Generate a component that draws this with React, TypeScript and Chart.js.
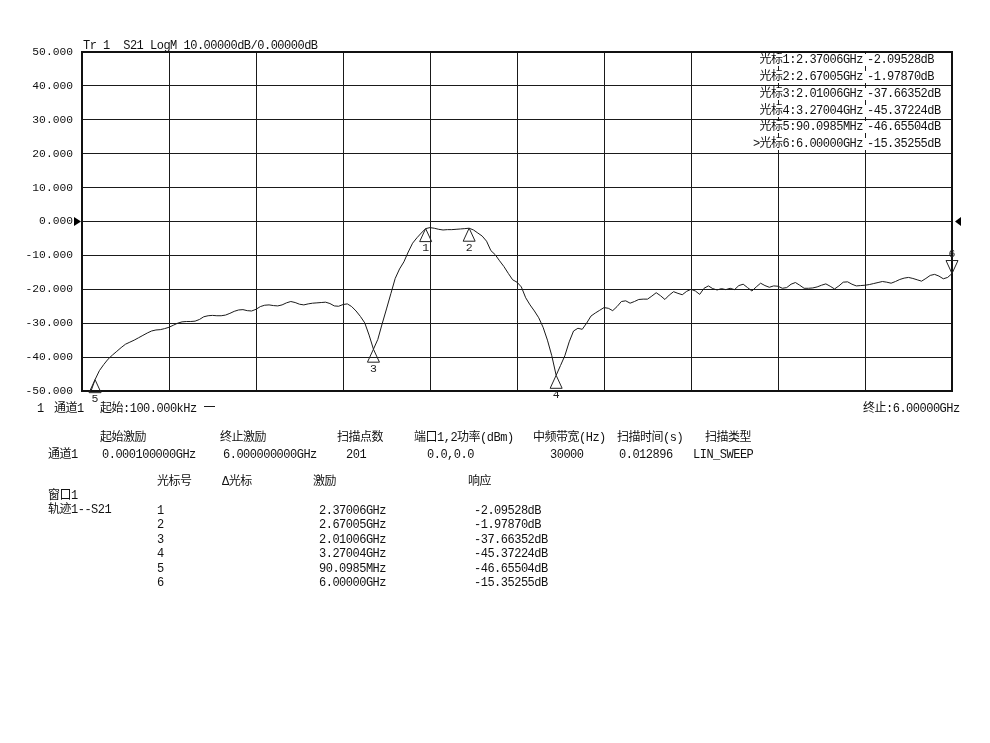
import React, { useEffect, useRef } from "react";
import { Chart, registerables } from "chart.js";
Chart.register(...registerables);

// ---- data ----
const startGHz = 0.0001;
const stopGHz = 6;
const yTickValues = [50, 40, 30, 20, 10, 0, -10, -20, -30, -40, -50];

const freqGHz = [
  0.0001, 0.03, 0.06, 0.09, 0.12, 0.15, 0.18, 0.21, 0.24, 0.27, 0.3, 0.33, 0.36, 0.39, 0.42, 0.45, 0.48, 0.51, 0.54, 0.57,
  0.6, 0.63, 0.66, 0.69, 0.72, 0.75, 0.78, 0.81, 0.84, 0.87, 0.9, 0.93, 0.96, 0.99, 1.02, 1.05, 1.08, 1.11, 1.14, 1.17,
  1.2, 1.23, 1.26, 1.29, 1.32, 1.35, 1.38, 1.41, 1.44, 1.47, 1.5, 1.53, 1.56, 1.59, 1.62, 1.65, 1.68, 1.71, 1.74, 1.77,
  1.8, 1.83, 1.86, 1.89, 1.92, 1.95, 1.98, 2.01006, 2.04, 2.07, 2.1, 2.13, 2.16, 2.19, 2.22, 2.25, 2.28, 2.31, 2.34, 2.37006,
  2.4, 2.43, 2.46, 2.49, 2.52, 2.55, 2.58, 2.61, 2.64, 2.67005, 2.7, 2.73, 2.76, 2.79, 2.82, 2.85, 2.88, 2.91, 2.94, 2.97,
  3.0, 3.03, 3.06, 3.09, 3.12, 3.15, 3.18, 3.21, 3.24, 3.27004, 3.3, 3.33, 3.36, 3.39, 3.42, 3.45, 3.48, 3.51, 3.54, 3.57,
  3.6, 3.63, 3.66, 3.69, 3.72, 3.75, 3.78, 3.81, 3.84, 3.87, 3.9, 3.93, 3.96, 3.99, 4.02, 4.05, 4.08, 4.11, 4.14, 4.17,
  4.2, 4.23, 4.26, 4.29, 4.32, 4.35, 4.38, 4.41, 4.44, 4.47, 4.5, 4.53, 4.56, 4.59, 4.62, 4.65, 4.68, 4.71, 4.74, 4.77,
  4.8, 4.83, 4.86, 4.89, 4.92, 4.95, 4.98, 5.01, 5.04, 5.07, 5.1, 5.13, 5.16, 5.19, 5.22, 5.25, 5.28, 5.31, 5.34, 5.37,
  5.4, 5.43, 5.46, 5.49, 5.52, 5.55, 5.58, 5.61, 5.64, 5.67, 5.7, 5.73, 5.76, 5.79, 5.82, 5.85, 5.88, 5.91, 5.94, 5.97, 6.0,
];

const s21dB = [
  -62, -55, -50.3, -46.66, -44.0, -42.2, -40.6, -39.4, -38.3, -37.2, -36.2, -35.6, -35.0, -34.3, -33.6, -32.9, -32.3, -32.0, -31.9, -31.6,
  -31.2, -30.6, -30.0, -29.6, -29.5, -29.5, -29.4, -28.9, -28.1, -27.8, -27.7, -27.8, -27.8, -27.6, -27.1, -26.5, -26.1, -26.0, -26.3, -26.4,
  -25.9, -25.1, -24.7, -24.6, -24.8, -24.9, -24.6, -24.0, -23.6, -23.9, -24.4, -24.6, -24.3, -24.1, -24.0, -23.9, -23.8, -24.2, -24.9, -25.0,
  -24.5, -24.3, -25.1, -26.4, -28.0, -29.9, -33.5, -37.66, -34.8, -30.2, -25.8, -21.3, -16.8, -14.0, -11.9, -9.0, -6.4, -4.8, -3.4, -2.1,
  -1.8, -2.0, -2.3, -2.5, -2.4, -2.4, -2.3, -2.2, -2.1, -1.98, -2.5, -3.4, -4.3, -5.8, -8.6, -9.8, -11.6, -13.3, -15.3, -17.2,
  -17.9, -19.3, -22.5, -24.6, -26.4, -28.4, -31.2, -35.0, -39.6, -45.37, -42.5, -39.6, -35.5, -32.3, -31.5, -31.8, -30.0, -27.9, -27.0, -26.2,
  -25.4, -25.6, -26.3, -25.1, -23.6, -23.4, -24.1, -23.6, -23.0, -22.9, -22.9, -22.0, -21.0, -21.9, -23.0, -21.7, -20.7, -21.2, -21.6, -20.6,
  -20.0, -20.5, -21.5, -19.7, -19.0, -19.8, -20.2, -19.8, -20.1, -19.7, -20.1, -18.9, -18.5, -19.5, -20.5, -19.3, -18.2, -18.9, -19.4, -19.0,
  -19.1, -19.7, -19.5, -18.5, -18.0, -18.8, -19.7, -19.7, -19.6, -19.3, -18.8, -18.4, -19.1, -19.9, -19.0, -17.9, -17.8, -18.5, -19.0, -18.9,
  -18.8, -18.6, -18.3, -18.0, -17.7, -17.9, -18.2, -17.7, -17.1, -16.7, -16.5, -16.8, -17.2, -17.6, -16.8, -15.9, -15.6, -16.1, -16.9, -16.5, -15.35,
];

const markerIds = ["1", "2", "3", "4", "5", "6"];
const markerFreqGHz = [2.37006, 2.67005, 2.01006, 3.27004, 0.0900985, 6.0];
const markerDb = [-2.09528, -1.9787, -37.66352, -45.37224, -46.65504, -15.35255];
const markerStimText = ["2.37006GHz", "2.67005GHz", "2.01006GHz", "3.27004GHz", "90.0985MHz", "6.00000GHz"];
const markerRespText = ["-2.09528dB", "-1.97870dB", "-37.66352dB", "-45.37224dB", "-46.65504dB", "-15.35255dB"];
const activeMarkerIndex = 5;

const headerText = "Tr 1  S21 LogM 10.00000dB/0.00000dB";
const settingHeaders = ["起始激励", "终止激励", "扫描点数", "端口1,2功率(dBm)", "中频带宽(Hz)", "扫描时间(s)", "扫描类型"];
const settingValues = ["0.000100000GHz", "6.000000000GHz", "201", "0.0,0.0", "30000", "0.012896", "LIN_SWEEP"];
const tableHeaders = ["光标号", "Δ光标", "激励", "响应"];

// ---- layout constants (positions only) ----
const FONT = '"Liberation Mono", "Noto Sans CJK SC", monospace';
const FS = 12;
const LS = "-0.5px";
const TXT = "#111";
const settingHeaderX = [100, 220, 337, 414, 533, 617, 705];
const settingValueX = [102, 223, 346, 427, 550, 619, 693];
const tableHeaderX = [157, 222, 313, 468];
const readoutY = [60, 77, 93.5, 110.5, 127, 144];
const tableRowY = [511, 525, 539.5, 554, 568.5, 583];

const T: React.FC<{ x: number; y: number; right?: boolean; children: React.ReactNode }> = ({ x, y, right, children }) => (
  <div
    style={{
      position: "absolute",
      top: y,
      ...(right ? { right: 990 - x } : { left: x }),
      transform: "translateY(-50%)",
      whiteSpace: "pre",
      fontFamily: FONT,
      fontSize: FS,
      letterSpacing: LS,
      lineHeight: "13px",
      color: TXT,
    }}
  >
    {children}
  </div>
);

const overlayPlugin = {
  id: "vnaOverlay",
  afterDraw(chart: any) {
    const { ctx, chartArea: ca } = chart;
    const xs = chart.scales.x;
    const ys = chart.scales.y;
    ctx.save();
    // frame
    ctx.strokeStyle = "#111";
    ctx.lineWidth = 2;
    ctx.strokeRect(ca.left, ca.top, ca.right - ca.left, ca.bottom - ca.top);
    // reference arrows at 0 dB
    const y0 = ys.getPixelForValue(0);
    ctx.fillStyle = "#000";
    ctx.beginPath();
    ctx.moveTo(ca.left - 1, y0);
    ctx.lineTo(ca.left - 8, y0 - 4.5);
    ctx.lineTo(ca.left - 8, y0 + 4.5);
    ctx.closePath();
    ctx.fill();
    ctx.beginPath();
    ctx.moveTo(ca.right + 3, y0);
    ctx.lineTo(ca.right + 9, y0 - 4.5);
    ctx.lineTo(ca.right + 9, y0 + 4.5);
    ctx.closePath();
    ctx.fill();
    // markers
    ctx.lineWidth = 1;
    ctx.strokeStyle = "#222";
    ctx.fillStyle = "#222";
    ctx.font = `11.5px ${FONT}`;
    ctx.textAlign = "center";
    ctx.textBaseline = "middle";
    markerIds.forEach((id, i) => {
      const px = xs.getPixelForValue(markerFreqGHz[i]);
      const py = ys.getPixelForValue(markerDb[i]);
      const dir = i === activeMarkerIndex ? -1 : 1;
      ctx.beginPath();
      ctx.moveTo(px, py);
      ctx.lineTo(px - 6, py + dir * 13);
      ctx.lineTo(px + 6, py + dir * 13);
      ctx.closePath();
      ctx.stroke();
      ctx.fillText(id, px, py + dir * 19.5);
    });
    ctx.restore();
  },
};

export default function App() {
  const ref = useRef<HTMLCanvasElement>(null);
  useEffect(() => {
    if (!ref.current) return;
    const gridX = Array.from({ length: 11 }, (_, i) => startGHz + ((stopGHz - startGHz) * i) / 10);
    const chart = new Chart(ref.current, {
      type: "line",
      data: {
        datasets: [
          {
            label: "S21",
            data: freqGHz.map((f, i) => ({ x: f, y: s21dB[i] })),
            borderColor: "#1a1a1a",
            borderWidth: 1,
            pointRadius: 0,
            tension: 0,
            fill: false,
          },
        ],
      },
      options: {
        animation: false,
        responsive: false,
        events: [],
        layout: { padding: { left: 0, top: 52, right: 38, bottom: 352 } },
        plugins: { legend: { display: false }, tooltip: { enabled: false } },
        scales: {
          x: {
            type: "linear",
            min: startGHz,
            max: stopGHz,
            afterBuildTicks: (s: any) => {
              s.ticks = gridX.map((v) => ({ value: v }));
            },
            afterFit: (s: any) => {
              s.height = 0;
            },
            ticks: { display: false },
            grid: { color: "#1a1a1a", lineWidth: 1, drawTicks: false },
            border: { display: false },
          },
          y: {
            type: "linear",
            min: -50,
            max: 50,
            afterBuildTicks: (s: any) => {
              s.ticks = yTickValues.map((v) => ({ value: v }));
            },
            afterFit: (s: any) => {
              s.width = 82;
            },
            ticks: {
              padding: 9,
              color: TXT,
              font: { family: FONT, size: 11.3 },
              callback: (v: any) => Number(v).toFixed(3),
            },
            grid: { color: "#1a1a1a", lineWidth: 1, drawTicks: false },
            border: { display: false },
          },
        },
      },
      plugins: [overlayPlugin],
    });
    return () => chart.destroy();
  }, []);

  return (
    <div style={{ position: "absolute", left: 0, top: 0, width: 990, height: 743, background: "#fff", overflow: "hidden" }}>
      <canvas ref={ref} width={990} height={743} style={{ position: "absolute", left: 0, top: 0 }} />
      <T x={83} y={46}>{headerText}</T>
      {markerIds.map((id, i) => (
        <div
          key={id}
          style={{
            position: "absolute",
            left: 740,
            top: readoutY[i] - 6,
            width: 210,
            height: 12,
            background: "#fff",
            display: "flex",
            fontFamily: FONT,
            fontSize: FS,
            letterSpacing: LS,
            lineHeight: "12px",
            color: TXT,
            whiteSpace: "pre",
          }}
        >
          <span style={{ width: 123, textAlign: "right" }}>
            {(i === activeMarkerIndex ? ">" : "") + "光标" + id + ":" + markerStimText[i]}
          </span>
          <span style={{ marginLeft: 4 }}>{markerRespText[i]}</span>
        </div>
      ))}
      <T x={37} y={409}>1</T>
      <T x={54} y={409}>通道1</T>
      <T x={100} y={409}>起始:100.000kHz 一</T>
      <T x={863} y={409}>终止:6.00000GHz</T>
      {settingHeaders.map((h, i) => (
        <T key={"sh" + i} x={settingHeaderX[i]} y={438}>{h}</T>
      ))}
      <T x={48} y={455}>通道1</T>
      {settingValues.map((v, i) => (
        <T key={"sv" + i} x={settingValueX[i]} y={455}>{v}</T>
      ))}
      {tableHeaders.map((h, i) => (
        <T key={"th" + i} x={tableHeaderX[i]} y={482}>{h}</T>
      ))}
      <T x={48} y={496}>窗口1</T>
      <T x={48} y={510}>轨迹1--S21</T>
      {markerIds.map((id, i) => (
        <React.Fragment key={"row" + id}>
          <T x={157} y={tableRowY[i]}>{id}</T>
          <T x={319} y={tableRowY[i]}>{markerStimText[i]}</T>
          <T x={474} y={tableRowY[i]}>{markerRespText[i]}</T>
        </React.Fragment>
      ))}
    </div>
  );
}
